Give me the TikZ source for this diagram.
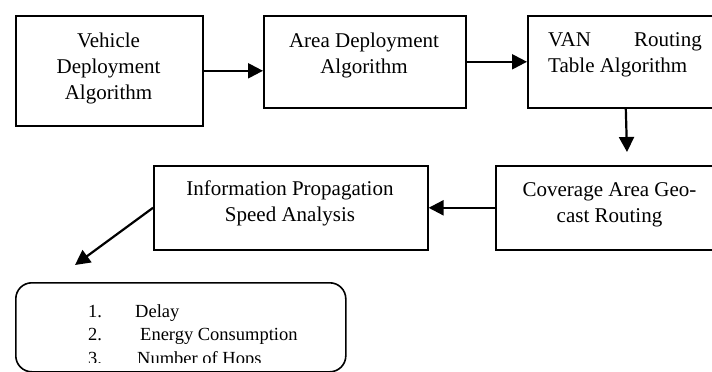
\documentclass[tikz,border=0pt]{standalone}
\usepackage{fontspec}
\setmainfont{Liberation Serif}
\usetikzlibrary{arrows.meta}

\tikzset{
  stepbox/.style={draw, line width=1.6pt, rectangle, inner sep=0pt, anchor=north west},
  listbox/.style={draw, line width=1.6pt, rectangle, rounded corners=16pt, inner sep=0pt, anchor=north west},
  flow/.style={line width=2.2pt, -{Triangle[length=15pt, width=15pt]}},
  lbl/.style={inner sep=0pt, font=\fontsize{21}{26}\selectfont},
  item/.style={inner sep=0pt, anchor=base west, font=\fontsize{18.5}{23}\selectfont},
}

\begin{document}
\begin{tikzpicture}[x=1pt, y=-1pt]
  \useasboundingbox (0,0) rectangle (712,372);

  % process boxes (top row, then second row)
  \node[stepbox, minimum width=187pt, minimum height=110pt] (b1) at (15,15) {};
  \node[stepbox, minimum width=202pt, minimum height=92pt]  (b2) at (263,15) {};
  \node[stepbox, minimum width=196pt, minimum height=92pt]  (b3) at (527,15) {};
  \node[stepbox, minimum width=229pt, minimum height=84pt]  (b4) at (495,165) {};
  \node[stepbox, minimum width=274pt, minimum height=84pt]  (b5) at (153,165) {};
  \node[listbox, minimum width=330pt, minimum height=89pt]  (res) at (15,282) {};

  % box texts
  \node[lbl, anchor=base] (t1a) at (108.5,47) {Vehicle};
  \node[lbl, anchor=base] (t1b) at (108.5,73) {Deployment};
  \node[lbl, anchor=base] (t1c) at (108.5,99) {Algorithm};

  \node[lbl, anchor=base] (t2a) at (364,47) {Area Deployment};
  \node[lbl, anchor=base] (t2b) at (364,73) {Algorithm};

  \node[lbl, anchor=base west] (t3a) at (548,46) {VAN};
  \node[lbl, anchor=base east] (t3b) at (702,46) {Routing};
  \node[lbl, anchor=base west] (t3c) at (548,72) {Table Algorithm};

  \node[lbl, anchor=base] (t4a) at (609.5,196) {Coverage Area Geo-};
  \node[lbl, anchor=base] (t4b) at (609.5,222) {cast Routing};

  \node[lbl, anchor=base] (t5a) at (290,195) {Information Propagation};
  \node[lbl, anchor=base] (t5b) at (290,221) {Speed Analysis};

  % result list, clipped by the inner frame of the rounded box
  \begin{scope}
    \clip (15,282) rectangle (345,362);
    \node[item] (n1) at (88,317) {1.};
    \node[item] (i1) at (135,317) {Delay};
    \node[item] (n2) at (88,340) {2.};
    \node[item] (i2) at (140,340) {Energy Consumption};
    \node[item] (n3) at (88,364.5) {3.};
    \node[item] (i3) at (137,364.5) {Number of Hops};
  \end{scope}

  % connectors
  \coordinate (c1) at (627,152);
  \coordinate (c2) at (75,265);
  \draw[flow] (b1.east) -- (b1.east -| b2.west);
  \draw[flow] (b2.east) -- (b3.west);
  \draw[flow] (b3.south) -- (c1);
  \draw[flow] (b4.west) -- (b5.east);
  \draw[flow] (b5.west) -- (c2);
\end{tikzpicture}
\end{document}
